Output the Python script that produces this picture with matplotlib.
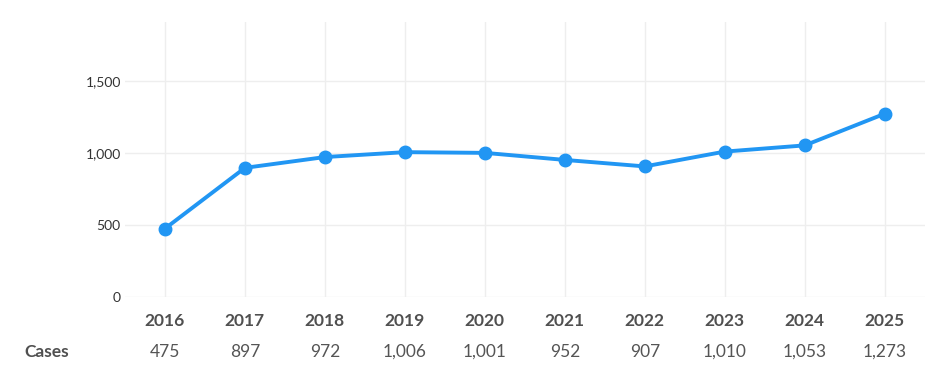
import matplotlib.pyplot as plt
from matplotlib.ticker import FuncFormatter
import matplotlib.transforms as mtransforms

# ---- data ----
years = ["2016", "2017", "2018", "2019", "2020", "2021", "2022", "2023", "2024", "2025"]
cases = [475, 897, 972, 1006, 1001, 952, 907, 1010, 1053, 1273]
y_ticks = [0, 500, 1000, 1500]

plt.rcParams['font.family'] = ['Lato', 'DejaVu Sans']

fig = plt.figure(figsize=(9.36, 3.78), dpi=100)
ax = fig.add_axes([0.1335, 0.2143, 0.8545, 0.7275])

x = list(range(len(years)))
ax.plot(x, cases, color='#2196F3', linewidth=2.8, marker='o', markersize=9,
        solid_capstyle='round', zorder=3)

ax.set_xlim(-0.5, len(years) - 0.5)
ax.set_ylim(0, 1910)
ax.set_yticks(y_ticks)
ax.yaxis.set_major_formatter(FuncFormatter(lambda v, p: "{:,.0f}".format(v)))
ax.set_xticks(x)
ax.set_xticklabels([])

ax.grid(True, color='#eeeeee', linewidth=1)
ax.set_axisbelow(True)
for s in ax.spines.values():
    s.set_visible(False)
ax.tick_params(axis='both', length=0)
ax.tick_params(axis='y', labelsize=10, labelcolor='#333333', pad=3)

# table-like labels under the axis
trans = mtransforms.blended_transform_factory(ax.transData, ax.transAxes)
for i, (yr, c) in enumerate(zip(years, cases)):
    ax.text(i, -0.087, yr, transform=trans, ha='center', va='center',
            fontsize=12.5, fontweight='bold', color='#505050')
    ax.text(i, -0.2, "{:,}".format(c), transform=trans, ha='center', va='center',
            fontsize=12.5, color='#555555')

fig.text(24 / 936, 1 - 352 / 378, "Cases", ha='left', va='center',
         fontsize=12.5, fontweight='bold', color='#505050')

fig.savefig("out.png", dpi=100, facecolor='white')
